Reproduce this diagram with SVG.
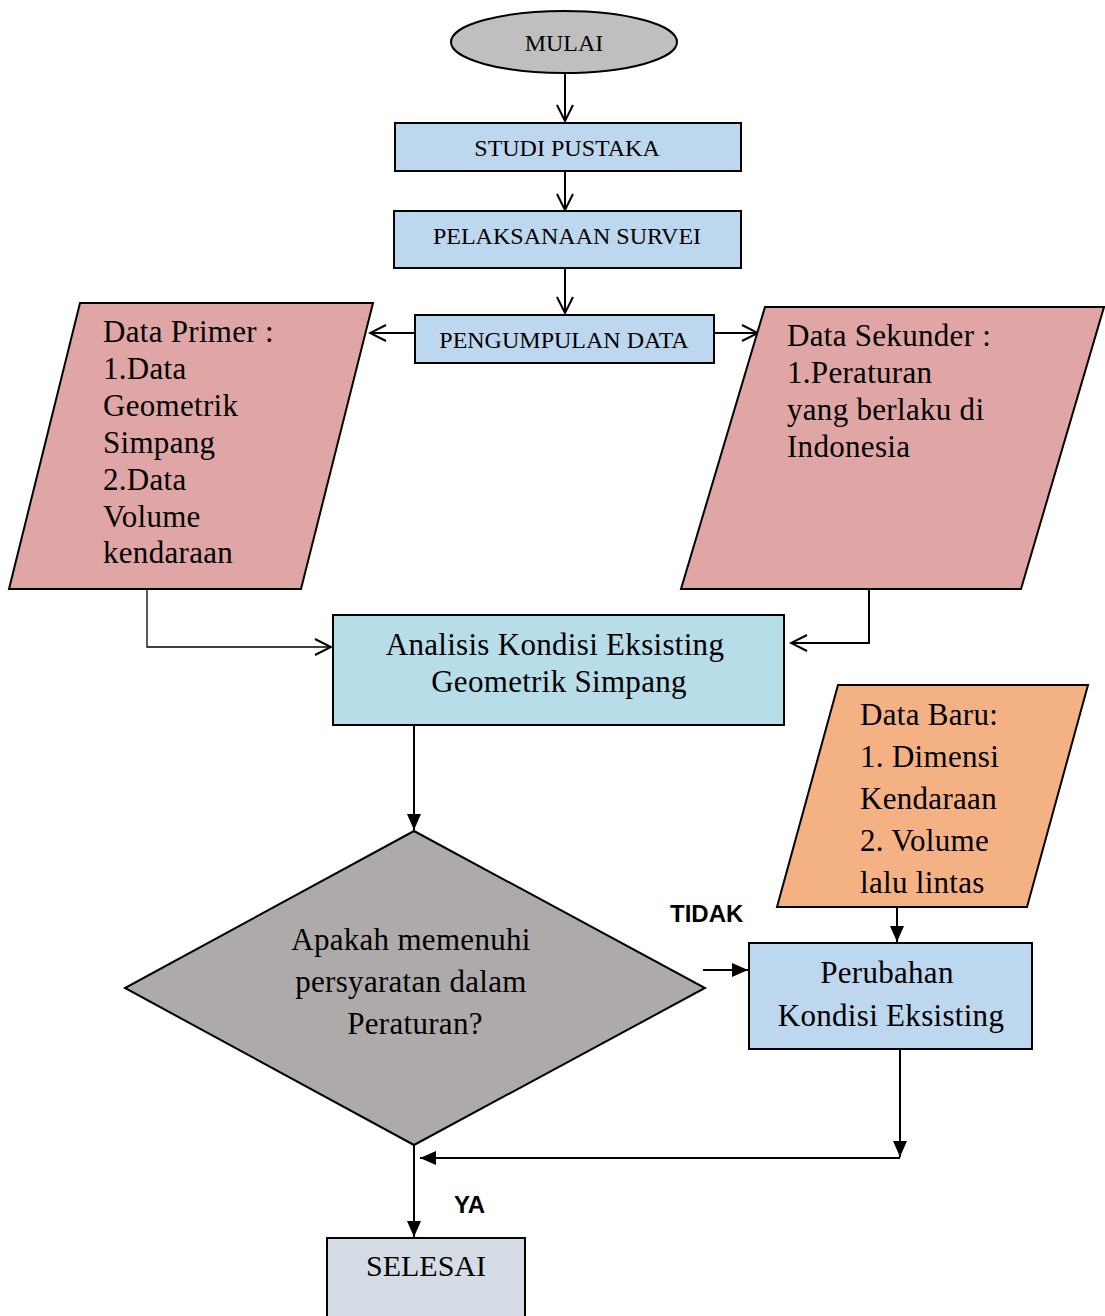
<svg xmlns="http://www.w3.org/2000/svg" width="1105" height="1316" viewBox="0 0 1105 1316">
<style>
.s{stroke:#000;stroke-width:2}
.t{font-family:"Liberation Serif","Times New Roman",serif;fill:#000}
.p{font-size:31px;letter-spacing:0.3px}
.h{font-size:24px}
.b{font-family:"Liberation Sans",Arial,sans-serif;font-weight:bold;font-size:24px;fill:#000}
.c{fill:none;stroke:#000;stroke-width:2}
.thin{fill:none;stroke:#000;stroke-width:1.3}
</style>
<defs>
<marker id="open" markerWidth="20" markerHeight="20" refX="18" refY="10" orient="auto" markerUnits="userSpaceOnUse">
<path d="M2,2 L18,10 L2,18" fill="none" stroke="#000" stroke-width="2"/>
</marker>
<marker id="fill" markerWidth="20" markerHeight="20" refX="18" refY="10" orient="auto" markerUnits="userSpaceOnUse">
<path d="M2,3 L18,10 L2,17 Z" fill="#000"/>
</marker>
</defs>
<rect width="1105" height="1316" fill="#fff"/>
<g id="connectors">
<line class="c" x1="565" y1="73" x2="565" y2="121" marker-end="url(#open)"/>
<line class="c" x1="565" y1="171" x2="565" y2="210" marker-end="url(#open)"/>
<line class="c" x1="565" y1="268" x2="565" y2="313" marker-end="url(#open)"/>
<line class="c" x1="415" y1="333" x2="370" y2="333" marker-end="url(#open)"/>
<line class="c" x1="714" y1="333" x2="758" y2="333" marker-end="url(#open)"/>
<polyline class="thin" points="147,589 147,647 331,647" marker-end="url(#open)"/>
<polyline class="c" points="869,589 869,643 791,643" marker-end="url(#open)"/>
<line class="c" x1="414" y1="725" x2="414" y2="830" marker-end="url(#fill)"/>
<line class="c" x1="897" y1="907" x2="897" y2="942" marker-end="url(#fill)"/>
<line class="c" x1="703" y1="970" x2="748" y2="970" marker-end="url(#fill)"/>
<line class="c" x1="900" y1="1049" x2="900" y2="1157" marker-end="url(#fill)"/>
<line class="c" x1="900" y1="1158" x2="420" y2="1158" marker-end="url(#fill)"/>
<line class="c" x1="414" y1="1145" x2="414" y2="1237" marker-end="url(#fill)"/>
<text class="b" x="670" y="922">TIDAK</text>
<text class="b" x="454" y="1213">YA</text>
</g>
<g id="mulai">
<ellipse class="s" cx="564" cy="42" rx="113" ry="31" fill="#bfbfbf"/>
<text class="t h" x="564" y="51" text-anchor="middle">MULAI</text>
</g>
<g id="studi">
<rect class="s" x="395" y="123" width="346" height="48" fill="#bdd7ee"/>
<text class="t h" x="567" y="156" text-anchor="middle">STUDI PUSTAKA</text>
</g>
<g id="survei">
<rect class="s" x="394" y="211" width="347" height="57" fill="#bdd7ee"/>
<text class="t h" x="567" y="244" text-anchor="middle">PELAKSANAAN SURVEI</text>
</g>
<g id="pengumpulan">
<rect class="s" x="415" y="315" width="299" height="48" fill="#bdd7ee"/>
<text class="t h" x="564" y="348" text-anchor="middle">PENGUMPULAN DATA</text>
</g>
<g id="primer">
<polygon class="s" points="80,303 373,303 301,589 9,589" fill="#e0a5a5"/>
<text class="t p">
<tspan x="103" y="342">Data Primer :</tspan>
<tspan x="103" y="379">1.Data</tspan>
<tspan x="103" y="416">Geometrik</tspan>
<tspan x="103" y="453">Simpang</tspan>
<tspan x="103" y="490">2.Data</tspan>
<tspan x="103" y="527">Volume</tspan>
<tspan x="103" y="563">kendaraan</tspan>
</text>
</g>
<g id="sekunder">
<polygon class="s" points="765,307 1104,307 1021,589 681,589" fill="#e0a5a5"/>
<text class="t p">
<tspan x="787" y="346">Data Sekunder :</tspan>
<tspan x="787" y="383">1.Peraturan</tspan>
<tspan x="787" y="420">yang berlaku di</tspan>
<tspan x="787" y="457">Indonesia</tspan>
</text>
</g>
<g id="analisis">
<rect class="s" x="333" y="615" width="451" height="110" fill="#b7dde8"/>
<text class="t p" text-anchor="middle">
<tspan x="559" y="655">Analisis Kondisi Eksisting</tspan>
<tspan x="559" y="692">Geometrik Simpang</tspan>
</text>
</g>
<g id="keputusan">
<polygon class="s" points="414,831 705,988 414,1145 125,988" fill="#aeaaaa"/>
<text class="t p" text-anchor="middle">
<tspan x="415" y="950">Apakah memenuhi</tspan>
<tspan x="415" y="992">persyaratan dalam</tspan>
<tspan x="415" y="1034">Peraturan?</tspan>
</text>
</g>
<g id="databaru">
<polygon class="s" points="838,685 1088,685 1027,907 777,907" fill="#f4b183"/>
<text class="t p">
<tspan x="860" y="725">Data Baru:</tspan>
<tspan x="860" y="767">1. Dimensi</tspan>
<tspan x="860" y="809">Kendaraan</tspan>
<tspan x="860" y="851">2. Volume</tspan>
<tspan x="860" y="893">lalu lintas</tspan>
</text>
</g>
<g id="perubahan">
<rect class="s" x="749" y="943" width="283" height="106" fill="#bdd7ee"/>
<text class="t p" text-anchor="middle">
<tspan x="891" y="983">Perubahan</tspan>
<tspan x="891" y="1026">Kondisi Eksisting</tspan>
</text>
</g>
<g id="selesai">
<rect class="s" x="327" y="1238" width="198" height="90" fill="#d6dce5"/>
<text class="t" x="426" y="1276" font-size="30" text-anchor="middle">SELESAI</text>
</g>
</svg>
